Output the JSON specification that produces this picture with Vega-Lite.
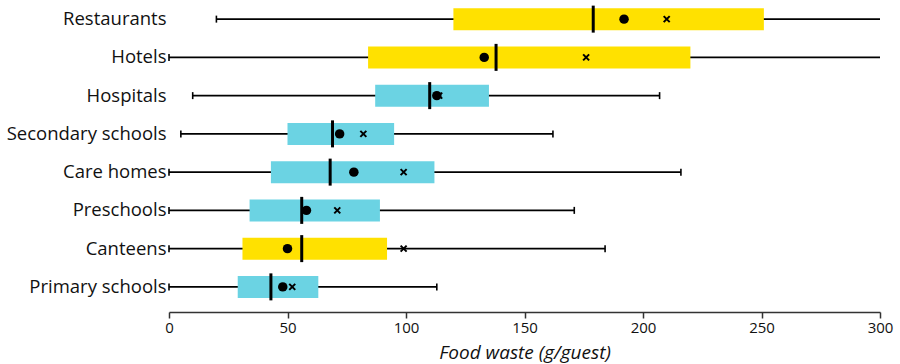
{
  "$schema": "https://vega.github.io/schema/vega-lite/v6.json",
  "width": 711,
  "height": 306,
  "autosize": {"type": "none"},
  "padding": {"left": 169, "top": 0, "right": 20, "bottom": 58},
  "background": "white",
  "config": {
    "view": {"stroke": null},
    "font": "Open Sans"
  },
  "data": {
    "values": [
      {"setting": "Restaurants", "sector": "commercial", "lo": 20, "q1": 120, "median": 179, "q3": 251, "hi": 300, "dot": 192, "cross": 210},
      {"setting": "Hotels", "sector": "commercial", "lo": 0, "q1": 84, "median": 138, "q3": 220, "hi": 300, "dot": 133, "cross": 176},
      {"setting": "Hospitals", "sector": "public", "lo": 10, "q1": 87, "median": 110, "q3": 135, "hi": 207, "dot": 113, "cross": 114},
      {"setting": "Secondary schools", "sector": "public", "lo": 5, "q1": 50, "median": 69, "q3": 95, "hi": 162, "dot": 72, "cross": 82},
      {"setting": "Care homes", "sector": "public", "lo": 0, "q1": 43, "median": 68, "q3": 112, "hi": 216, "dot": 78, "cross": 99},
      {"setting": "Preschools", "sector": "public", "lo": 0, "q1": 34, "median": 56, "q3": 89, "hi": 171, "dot": 58, "cross": 71},
      {"setting": "Canteens", "sector": "commercial", "lo": 0, "q1": 31, "median": 56, "q3": 92, "hi": 184, "dot": 50, "cross": 99},
      {"setting": "Primary schools", "sector": "public", "lo": 0, "q1": 29, "median": 43, "q3": 63, "hi": 113, "dot": 48, "cross": 52}
    ]
  },
  "encoding": {
    "y": {
      "field": "setting",
      "type": "nominal",
      "sort": null,
      "scale": {"paddingInner": 0, "paddingOuter": 0},
      "axis": {
        "title": null,
        "domain": false,
        "ticks": false,
        "labelPadding": 3,
        "labelFontSize": 18.5,
        "labelColor": "#111111",
        "labelFont": "Open Sans"
      }
    }
  },
  "layer": [
    {
      "mark": {"type": "rule", "color": "black", "strokeWidth": 1.8},
      "encoding": {
        "x": {
          "field": "lo",
          "type": "quantitative",
          "scale": {"domain": [0, 300], "nice": false},
          "axis": {
            "title": "Food waste (g/guest)",
            "titleFont": "Open Sans",
            "titleFontStyle": "italic",
            "titleFontWeight": "normal",
            "titleFontSize": 19,
            "titleColor": "#111111",
            "titlePadding": 8,
            "values": [0, 50, 100, 150, 200, 250, 300],
            "grid": false,
            "offset": 6,
            "domainColor": "#333333",
            "domainWidth": 1.5,
            "tickColor": "#333333",
            "tickWidth": 1.5,
            "tickSize": 6,
            "labelFont": "Open Sans",
            "labelFontSize": 15,
            "labelColor": "#111111",
            "labelPadding": 2,
            "labelFlush": false
          }
        },
        "x2": {"field": "hi"}
      }
    },
    {
      "mark": {"type": "tick", "orient": "vertical", "color": "black", "size": 7, "thickness": 1.6, "opacity": 1},
      "encoding": {"x": {"field": "lo", "type": "quantitative"}}
    },
    {
      "transform": [{"filter": "datum.hi < 300"}],
      "mark": {"type": "tick", "orient": "vertical", "color": "black", "size": 7, "thickness": 1.6, "opacity": 1},
      "encoding": {"x": {"field": "hi", "type": "quantitative"}}
    },
    {
      "mark": {"type": "bar", "size": 22, "opacity": 1},
      "encoding": {
        "x": {"field": "q1", "type": "quantitative"},
        "x2": {"field": "q3"},
        "color": {
          "field": "sector",
          "type": "nominal",
          "scale": {"domain": ["commercial", "public"], "range": ["#FFE100", "#6BD3E3"]},
          "legend": null
        }
      }
    },
    {
      "mark": {
        "type": "point",
        "shape": "M-1,-1L1,1M1,-1L-1,1",
        "filled": false,
        "stroke": "black",
        "strokeWidth": 2,
        "size": 36,
        "opacity": 1
      },
      "encoding": {"x": {"field": "cross", "type": "quantitative"}}
    },
    {
      "mark": {"type": "point", "shape": "circle", "filled": true, "color": "black", "size": 90, "opacity": 1},
      "encoding": {"x": {"field": "dot", "type": "quantitative"}}
    },
    {
      "mark": {"type": "tick", "orient": "vertical", "color": "black", "size": 27, "thickness": 3, "opacity": 1},
      "encoding": {"x": {"field": "median", "type": "quantitative"}}
    }
  ]
}
